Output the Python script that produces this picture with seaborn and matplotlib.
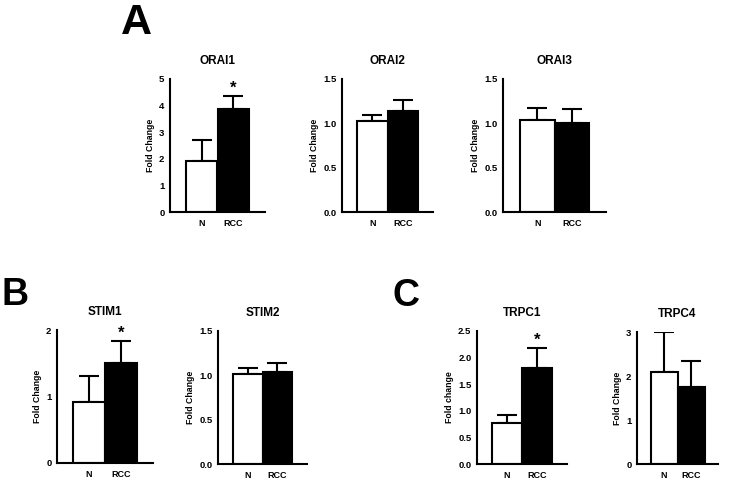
import matplotlib
matplotlib.use("Agg")
import matplotlib.pyplot as plt
import seaborn as sns
import numpy as np

sns.set_style("white")
plt.rcParams['font.family'] = ['Liberation Sans', 'DejaVu Sans']
plt.rcParams['font.weight'] = 'bold'
for k in ['text.color', 'axes.labelcolor', 'xtick.color', 'ytick.color']:
    plt.rcParams[k] = 'black'

genes = ["ORAI1", "ORAI2", "ORAI3", "STIM1", "STIM2", "TRPC1", "TRPC4"]
groups = ["N", "RCC"]
n_mean = [1.90, 1.03, 1.04, 0.92, 1.02, 0.77, 2.10]
n_sem = [0.80, 0.06, 0.13, 0.39, 0.06, 0.16, 0.90]
rcc_mean = [3.88, 1.14, 1.00, 1.51, 1.04, 1.80, 1.75]
rcc_sem = [0.48, 0.12, 0.16, 0.32, 0.10, 0.38, 0.59]
significant = [True, False, False, True, False, True, False]
y_max = [5, 1.5, 1.5, 2, 1.5, 2.5, 3]
y_step = [1, 0.5, 0.5, 1, 0.5, 0.5, 1]
y_fmt = ["{:.0f}", "{:.1f}", "{:.1f}", "{:.0f}", "{:.1f}", "{:.1f}", "{:.0f}"]
y_labels = ["Fold Change"] * 5 + ["Fold change", "Fold Change"]
panel_letters = ["A", "B", "C"]

W, H = 730, 482
fig = plt.figure(figsize=(W / 100, H / 100), dpi=100)

# pixel boxes: left, right, top, bottom
boxes = [(170, 265, 79, 212), (342, 433, 79, 212), (503, 606, 79, 212),
         (57, 153, 330, 463), (218, 307, 331, 464),
         (477, 567, 331, 464), (637, 718, 332, 464)]

lw = 1.5
for i, g in enumerate(genes):
    l, r, t, b = boxes[i]
    ax = fig.add_axes([l / W, 1 - b / H, (r - l) / W, (b - t) / H])
    means = [n_mean[i], rcc_mean[i]]
    sems = [n_sem[i], rcc_sem[i]]
    ax.errorbar([0, 1], means, yerr=[[0, 0], sems], fmt='none', ecolor='black',
                elinewidth=lw, capsize=7.5, capthick=lw, zorder=1)
    sns.barplot(x=groups, y=means, hue=groups, palette={"N": "white", "RCC": "black"},
                edgecolor="black", linewidth=lw, width=1, legend=False, ax=ax, zorder=2)
    ax.set_xlim(-1, 2)
    ax.set_ylim(0, y_max[i])
    ticks = np.arange(0, y_max[i] + 1e-9, y_step[i])
    ax.set_yticks(ticks)
    ax.set_yticklabels([y_fmt[i].format(v) for v in ticks], fontsize=6.8, fontweight='bold')
    ax.set_xticks([0, 1])
    ax.set_xticklabels(groups, fontsize=6.5, fontweight='bold')
    for s in ['top', 'right']:
        ax.spines[s].set_visible(False)
    for s in ['left', 'bottom']:
        ax.spines[s].set_linewidth(lw)
        ax.spines[s].set_color('black')
    ax.tick_params(axis='both', direction='out', length=3, width=lw, pad=1, colors='black')
    ax.tick_params(axis='x', pad=2)
    ax.set_ylabel(y_labels[i], fontsize=6.3, fontweight='bold', labelpad=3)
    ax.set_xlabel("")
    ax.set_title(g, fontsize=8.5, fontweight='bold', pad=11)
    ax.set_facecolor('white')
    if significant[i]:
        ax.annotate("*", xy=(1, rcc_mean[i] + rcc_sem[i]), xytext=(0, 0.5),
                    textcoords='offset points', ha='center', va='bottom',
                    fontsize=12, fontweight='bold')

fig.text(136 / W, 1 - 34 / H, panel_letters[0], fontsize=31, fontweight='bold', ha='center', va='baseline')
fig.text(2 / W, 1 - 305 / H, panel_letters[1], fontsize=27, fontweight='bold', ha='left', va='baseline')
fig.text(393 / W, 1 - 306 / H, panel_letters[2], fontsize=27, fontweight='bold', ha='left', va='baseline')

fig.savefig("out.png", dpi=100, facecolor='white')
